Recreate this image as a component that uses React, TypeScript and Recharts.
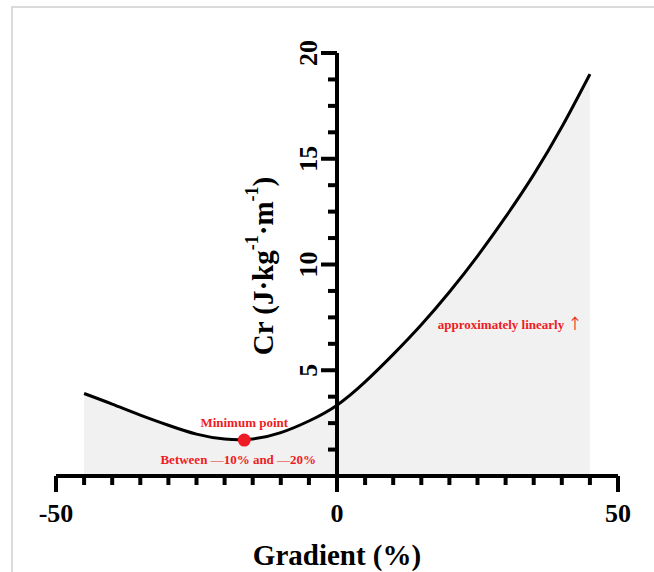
import React from 'react'
import { ComposedChart, Area, XAxis, YAxis, ReferenceLine, ReferenceDot } from 'recharts'

// gradient (%) and energy cost of running
const gradients = [-45, -40, -35, -30, -25, -20, -15, -10, -5, 0, 5, 10, 15, 20, 25, 30, 35, 40, 45]
const costs = [3.9, 3.4, 2.88, 2.4, 1.98, 1.75, 1.75, 2.05, 2.6, 3.35, 4.45, 5.75, 7.15, 8.7, 10.4, 12.25, 14.25, 16.5, 19.0]

const xTicks = [-50, -45, -40, -35, -30, -25, -20, -15, -10, -5, 0, 5, 10, 15, 20, 25, 30, 35, 40, 45, 50]
const xMajor = [-50, 0, 50]
const yTicks = [1.25, 2.5, 3.75, 5, 6.25, 7.5, 8.75, 10, 11.25, 12.5, 13.75, 15, 16.25, 17.5, 18.75, 20]
const yMajor = [5, 10, 15, 20]

const minPoint = { x: -16.5, y: 1.7 }
const linearNote = { x: 30.8, y: 7.2, text: 'approximately linearly ' }

const data = gradients.map((g, i) => ({ x: g, cr: costs[i] }))

const SERIF = '"Liberation Serif", "Times New Roman", serif'
const RED = '#ee1c24'

function XTick(props: any) {
  const { x, y, payload } = props
  const major = xMajor.includes(payload.value)
  return (
    <g>
      <line x1={x} x2={x} y1={y} y2={y + (major ? 16 : 9)} stroke="#000" strokeWidth={4} />
      {major && (
        <text x={x} y={y + 46} textAnchor="middle" fontFamily={SERIF} fontWeight="bold" fontSize={26} fill="#000">
          {payload.value}
        </text>
      )}
    </g>
  )
}

function YTick({ cx, cy, value }: any) {
  const major = yMajor.includes(value)
  return (
    <g>
      <line x1={cx - (major ? 16 : 9)} x2={cx} y1={cy} y2={cy} stroke="#000" strokeWidth={4} />
      {major && (
        <text
          x={cx - 29}
          y={cy}
          transform={`rotate(-90 ${cx - 29} ${cy})`}
          textAnchor="middle"
          dominantBaseline="central"
          fontFamily={SERIF}
          fontWeight="bold"
          fontSize={26}
          fill="#000"
        >
          {value}
        </text>
      )}
    </g>
  )
}

function MinDot({ cx, cy }: any) {
  return (
    <g fontFamily={SERIF} fontWeight="bold" fontSize={13} fill={RED}>
      <circle cx={cx} cy={cy} r={6.5} fill={RED} />
      <text x={cx} y={cy - 13} textAnchor="middle">Minimum point</text>
      <text x={cx - 6} y={cy + 24} textAnchor="middle">
        Between <tspan fontWeight="normal">—</tspan>10% and <tspan fontWeight="normal">—</tspan>20%
      </text>
    </g>
  )
}

function Note({ cx, cy }: any) {
  return (
    <text x={cx} y={cy + 5} textAnchor="middle" fontFamily={SERIF} fontWeight="bold" fontSize={13} fill={RED}>
      {linearNote.text}
      <tspan fontFamily='"Noto Sans CJK SC", "DejaVu Sans", sans-serif' fontWeight="normal" fontSize={15}>
        ↑
      </tspan>
    </text>
  )
}

export default function App() {
  return (
    <div style={{ position: 'absolute', left: 0, top: 0, width: 654, height: 572, background: '#fff', overflow: 'hidden' }}>
      <div
        style={{
          position: 'absolute',
          left: 11,
          top: 6,
          width: 800,
          height: 800,
          border: '2px solid #dadada',
        }}
      />
      <ComposedChart
        width={654}
        height={572}
        data={data}
        margin={{ top: 53, right: 36, bottom: 0, left: 56 }}
        style={{ position: 'absolute', left: 0, top: 0 }}
      >
        <XAxis
          dataKey="x"
          type="number"
          domain={[-50, 50]}
          ticks={xTicks}
          interval={0}
          allowDataOverflow
          height={96}
          tickSize={0}
          tickMargin={0}
          tickLine={false}
          axisLine={{ stroke: '#000', strokeWidth: 4 }}
          tick={<XTick />}
        />
        <YAxis hide type="number" domain={[0, 20]} allowDataOverflow />
        <ReferenceLine x={0} stroke="#000" strokeWidth={4} />
        <Area
          type="natural"
          dataKey="cr"
          stroke="#000"
          strokeWidth={3}
          fill="#efefef"
          fillOpacity={0.85}
          isAnimationActive={false}
        />
        {yTicks.map((v) => (
          <ReferenceDot key={v} x={0} y={v} r={0} shape={(p: any) => <YTick {...p} value={v} />} />
        ))}
        <ReferenceDot x={minPoint.x} y={minPoint.y} r={6.5} shape={(p: any) => <MinDot {...p} />} />
        <ReferenceDot x={linearNote.x} y={linearNote.y} r={0} shape={(p: any) => <Note {...p} />} />
      </ComposedChart>
      <svg width={654} height={572} style={{ position: 'absolute', left: 0, top: 0, pointerEvents: 'none' }}>
        <text
          x={337}
          y={565}
          textAnchor="middle"
          fontFamily={SERIF}
          fontWeight="bold"
          fontSize={29}
          fill="#000"
        >
          Gradient (%)
        </text>
        <text
          transform="translate(263 266) rotate(-90)"
          textAnchor="middle"
          dominantBaseline="central"
          fontFamily={SERIF}
          fontWeight="bold"
          fontSize={29}
          fill="#000"
        >
          Cr (J·kg<tspan fontSize={18} dy={-11}>-1</tspan>
          <tspan dy={11}>·m</tspan>
          <tspan fontSize={18} dy={-11}>-1</tspan>
          <tspan dy={11}>)</tspan>
        </text>
      </svg>
    </div>
  )
}
